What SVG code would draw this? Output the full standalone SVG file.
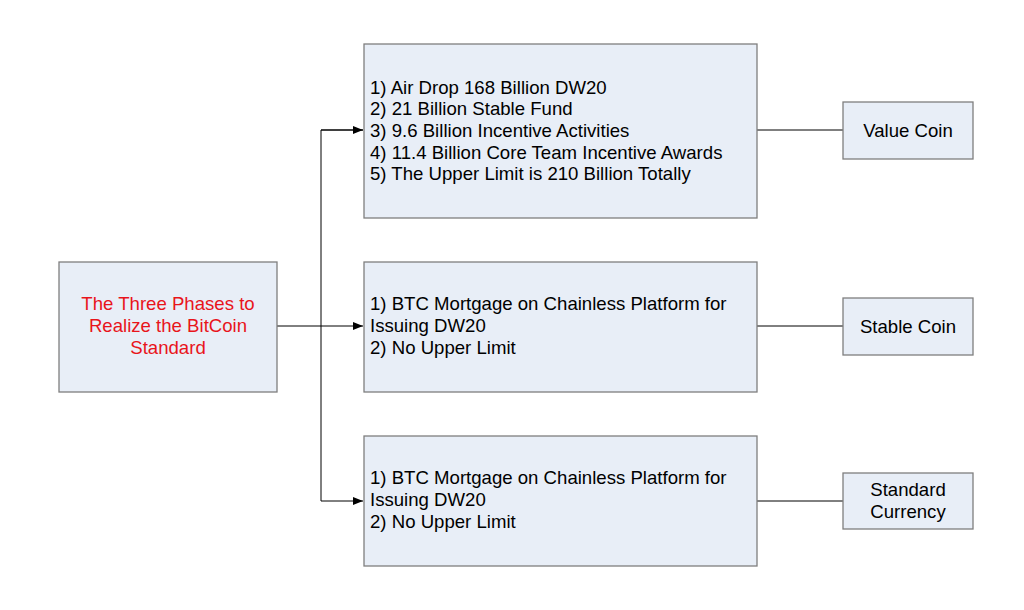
<svg xmlns="http://www.w3.org/2000/svg" width="1024" height="610" viewBox="0 0 1024 610">
<style>
.box{fill:#e8eef7;stroke:#7f7f7f;stroke-width:1.3}
text{font-family:"Liberation Sans",Arial,sans-serif;font-size:18.6px;fill:#000}
.red{fill:#e8141b}
.c{text-anchor:middle}
.ln{stroke:#000;stroke-width:1;fill:none}
</style>
<defs>
<marker id="arr" markerWidth="10" markerHeight="8" refX="10" refY="4" orient="auto" markerUnits="userSpaceOnUse">
<path d="M0,0 L10,4 L0,8 Z" fill="#000"/>
</marker>
</defs>
<rect width="1024" height="610" fill="#fff"/>
<g id="connectors">
<line class="ln" x1="277" y1="326" x2="363" y2="326" marker-end="url(#arr)"/>
<polyline class="ln" points="363,130 321,130 321,501 363,501" marker-end="url(#arr)"/>
<path class="ln" d="M321,130 L363,130" marker-end="url(#arr)"/>
<line class="ln" x1="757" y1="130" x2="843" y2="130"/>
<line class="ln" x1="757" y1="326" x2="843" y2="326"/>
<line class="ln" x1="757" y1="501" x2="843" y2="501"/>
</g>
<g id="start">
<rect class="box" x="59" y="262" width="218" height="130"/>
<text class="red c" x="168" y="310">The Three Phases to</text>
<text class="red c" x="168" y="332">Realize the BitCoin</text>
<text class="red c" x="168" y="354">Standard</text>
</g>
<g id="phase1">
<rect class="box" x="364" y="44" width="393" height="174"/>
<text x="370" y="94">1) Air Drop 168 Billion DW20</text>
<text x="370" y="115">2) 21 Billion Stable Fund</text>
<text x="370" y="137">3) 9.6 Billion Incentive Activities</text>
<text x="370" y="159">4) 11.4 Billion Core Team Incentive Awards</text>
<text x="370" y="180">5) The Upper Limit is 210 Billion Totally</text>
</g>
<g id="phase2">
<rect class="box" x="364" y="262" width="393" height="130"/>
<text x="370" y="310">1) BTC Mortgage on Chainless Platform for</text>
<text x="370" y="332">Issuing DW20</text>
<text x="370" y="354">2) No Upper Limit</text>
</g>
<g id="phase3">
<rect class="box" x="364" y="436" width="393" height="130"/>
<text x="370" y="484">1) BTC Mortgage on Chainless Platform for</text>
<text x="370" y="506">Issuing DW20</text>
<text x="370" y="528">2) No Upper Limit</text>
</g>
<g id="value-coin">
<rect class="box" x="843" y="102" width="130" height="57"/>
<text class="c" x="908" y="137">Value Coin</text>
</g>
<g id="stable-coin">
<rect class="box" x="843" y="298" width="130" height="57"/>
<text class="c" x="908" y="333">Stable Coin</text>
</g>
<g id="standard-currency">
<rect class="box" x="843" y="473" width="130" height="56"/>
<text class="c" x="908" y="496">Standard</text>
<text class="c" x="908" y="518">Currency</text>
</g>
</svg>
